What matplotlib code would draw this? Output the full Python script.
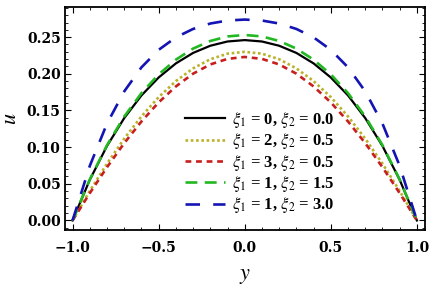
import numpy as np
import matplotlib
matplotlib.use("Agg")
import matplotlib.pyplot as plt
from matplotlib.ticker import MultipleLocator

plt.rcParams['mathtext.fontset'] = 'stix'

# values (y from -1 to 1 in steps of 0.1)
yv = np.round(np.arange(-1.0, 1.0001, 0.1), 1)
half_black = [0.0, 0.0554, 0.1016, 0.1396, 0.1705, 0.195, 0.2142, 0.2285, 0.2383, 0.2441, 0.246]
half_yellow = [0.0, 0.0402, 0.0775, 0.1116, 0.1419, 0.1682, 0.1901, 0.2074, 0.2199, 0.2275, 0.230]
half_red = [0.0, 0.0372, 0.0726, 0.1054, 0.1350, 0.1610, 0.1828, 0.2002, 0.2128, 0.2204, 0.223]
half_green = [0.0, 0.0559, 0.1027, 0.1417, 0.1736, 0.1992, 0.2193, 0.2344, 0.2448, 0.2510, 0.253]
half_blue = [0.0, 0.0744, 0.1321, 0.1760, 0.2088, 0.2327, 0.2497, 0.2612, 0.2686, 0.2727, 0.274]

labels = [r'$\xi_1$ = 0, $\xi_2$ = 0.0',
          r'$\xi_1$ = 2, $\xi_2$ = 0.5',
          r'$\xi_1$ = 3, $\xi_2$ = 0.5',
          r'$\xi_1$ = 1, $\xi_2$ = 1.5',
          r'$\xi_1$ = 1, $\xi_2$ = 3.0']

def full(h):
    return np.array(h + h[-2::-1])

fig = plt.figure(figsize=(4.35, 2.96), dpi=100)
ax = fig.add_axes([0.149, 0.223, 0.828, 0.753])

ax.plot(yv, full(half_black), color="black", lw=1.6, label=labels[0])
ax.plot(yv, full(half_yellow), color="#bab22a", lw=1.9, linestyle=(0, (1.0, 1.0)), label=labels[1])
ax.plot(yv, full(half_red), color="#c81e1e", lw=1.9, linestyle=(0, (2.2, 1.8)), label=labels[2])
ax.plot(yv, full(half_green), color="#22b822", lw=1.9, linestyle=(0, (4.5, 2.8)), label=labels[3])
ax.plot(yv, full(half_blue), color="#1414b4", lw=1.9, linestyle=(0, (5.5, 5.0)), label=labels[4])

ax.set_xlim(-1.045, 1.047)
ax.set_ylim(-0.013, 0.291)
ax.xaxis.set_major_locator(MultipleLocator(0.5))
ax.xaxis.set_minor_locator(MultipleLocator(0.1))
ax.yaxis.set_major_locator(MultipleLocator(0.05))
ax.yaxis.set_minor_locator(MultipleLocator(0.01))
ax.xaxis.set_major_formatter(lambda v, p: ("%.1f" % v).replace("-", "\u2212"))
ax.yaxis.set_major_formatter(lambda v, p: "%.2f" % v)
ax.tick_params(which="both", direction="in", top=True, right=True)
ax.tick_params(which="major", length=4, width=0.8, labelsize=10, pad=3)
ax.tick_params(axis="x", which="major", pad=8)
ax.tick_params(which="minor", length=2, width=0.6)
for lab in ax.get_xticklabels() + ax.get_yticklabels():
    lab.set_family("DejaVu Serif")
    lab.set_weight("bold")
for s in ax.spines.values():
    s.set_linewidth(1.3)

ax.set_xlabel(r'$y$', fontsize=16, labelpad=8)
ax.set_ylabel(r'$u$', fontsize=16)
ax.yaxis.set_label_coords(-0.125, 0.5)

leg = ax.legend(loc="upper left", bbox_to_anchor=(0.31, 0.575), frameon=False,
                borderpad=0, handlelength=2.4, handletextpad=0.45, labelspacing=0.08,
                prop={"family": "Liberation Serif", "weight": "bold", "size": 12})

fig.savefig("out.png", dpi=100)
